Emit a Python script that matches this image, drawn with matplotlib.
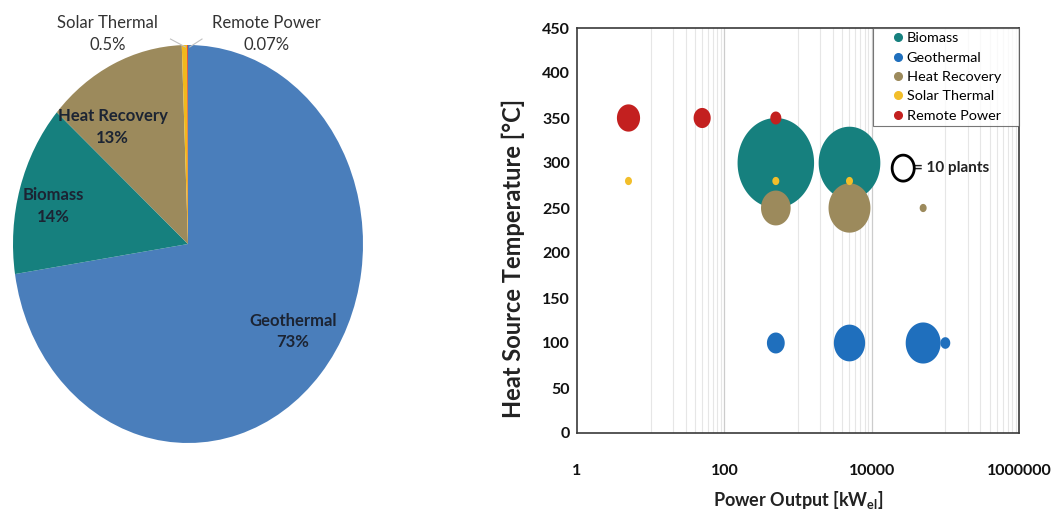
import numpy as np
import matplotlib
matplotlib.use("Agg")
import matplotlib.pyplot as plt
from matplotlib.path import Path
from matplotlib.lines import Line2D

plt.rcParams['font.family'] = ['Lato', 'DejaVu Sans']

# pie data
pie_labels = ["Geothermal", "Biomass", "Heat Recovery", "Solar Thermal", "Remote Power"]
pie_pcts = [73, 14, 13, 0.5, 0.07]
pie_texts = ["73%", "14%", "13%", "0.5%", "0.07%"]

# bubble data: power output [kW_el], temperature [C], number of plants
bio_x = [500, 5000]
bio_y = [300, 300]
bio_n = [120, 78]

geo_x = [500, 5000, 50000, 100000]
geo_y = [100, 100, 100, 100]
geo_n = [6.5, 20, 25, 2]

heat_x = [500, 5000, 50000]
heat_y = [250, 250, 250]
heat_n = [18, 36, 1]

solar_x = [5, 500, 5000]
solar_y = [280, 280, 280]
solar_n = [1, 1, 1]

remote_x = [5, 50, 500]
remote_y = [350, 350, 350]
remote_n = [11, 6, 2.5]

colors = {"Biomass": "#16807e", "Geothermal": "#1f6fbd", "Heat Recovery": "#9c8a5c",
          "Solar Thermal": "#f2be2a", "Remote Power": "#c3201f"}
pie_colors = ["#4a7ebb", "#16807e", "#9c8a5c", "#f2b81c", "#c3201f"]

fig = plt.figure(figsize=(10.61, 5.14), dpi=100)

# ---------------- pie (slightly squashed like the original) ----------------
axp = fig.add_axes([13 / 1061, (514 - 443) / 514, 350 / 1061, 398 / 514])
wedges, _ = axp.pie(pie_pcts, colors=pie_colors, startangle=90, counterclock=False,
                    wedgeprops=dict(linewidth=0))
axp.set_xlim(-1, 1)
axp.set_ylim(-1, 1)
axp.set_aspect('auto')

inside_pos = [(0.60, -0.44), (-0.77, 0.19), (-0.43, 0.59)]
for i in range(3):
    axp.text(inside_pos[i][0], inside_pos[i][1], pie_labels[i] + "\n" + pie_texts[i],
             ha='center', va='center', fontsize=12, fontweight='bold', color='#1c2433',
             linespacing=1.45)
outside_pos = [(-0.46, 1.055), (0.45, 1.055)]
for j, i in enumerate([3, 4]):
    axp.text(outside_pos[j][0], outside_pos[j][1], pie_labels[i] + "\n" + pie_texts[i],
             ha='center', va='center', fontsize=12, color='#333333', linespacing=1.45)
# leader lines
axp.plot([-0.10, -0.015], [1.03, 0.99], color='#c0c0c0', lw=0.8, clip_on=False)
axp.plot([0.08, 0.01], [1.03, 0.99], color='#c0c0c0', lw=0.8, clip_on=False)

# ---------------- bubbles ----------------
ax = fig.add_axes([577 / 1061, (514 - 433) / 514, (1019 - 577) / 1061, (433 - 28) / 514])

t = np.linspace(0, 2 * np.pi, 120)
ell = Path(np.column_stack([0.85 * np.cos(t), np.sin(t)]), closed=True)
k = 35  # marker area per plant (pt^2)

series = [("Biomass", bio_x, bio_y, bio_n),
          ("Geothermal", geo_x, geo_y, geo_n),
          ("Heat Recovery", heat_x, heat_y, heat_n),
          ("Solar Thermal", solar_x, solar_y, solar_n),
          ("Remote Power", remote_x, remote_y, remote_n)]
for name, xs, ys, ns in series:
    ax.scatter(xs, ys, s=[k * n for n in ns], marker=ell, color=colors[name],
               edgecolors='none', zorder=3)

ax.set_xscale('log')
ax.set_xlim(1, 1e6)
ax.set_ylim(0, 450)
ax.set_yticks(range(0, 451, 50))
ax.set_xticks([1, 100, 10000, 1000000])
ax.set_xticklabels(["1", "100", "10000", "1000000"])
ax.xaxis.set_minor_locator(matplotlib.ticker.NullLocator())

# excel style grid lines
grid_x = [m * 10 ** e for e in (1, 3, 5) for m in range(1, 10)]
for gx in grid_x:
    ax.axvline(gx, color='#e6e6e6', lw=0.8, zorder=0)
for gx in [100, 10000]:
    ax.axvline(gx, color='#cccccc', lw=0.9, zorder=0)

for sp in ax.spines.values():
    sp.set_color('#3a3a3a')
    sp.set_linewidth(1.2)
ax.tick_params(length=0, labelsize=11.5, colors='#111111')
ax.tick_params(axis='y', pad=5)
ax.tick_params(axis='x', pad=22)
for lab in ax.get_xticklabels() + ax.get_yticklabels():
    lab.set_fontweight('bold')

ax.set_xlabel("Power Output [kW$_{\\mathregular{el}}$]", fontsize=13, fontweight='bold',
              color='#222222', labelpad=8)
ax.set_ylabel("Heat Source Temperature [°C]", fontsize=17, fontweight='bold',
              color='#222222')
ax.yaxis.set_label_coords(-0.118, 0.43)

handles = [Line2D([], [], marker='o', ls='none', markersize=5.5, color=colors[s[0]])
           for s in series]
leg = ax.legend(handles, [s[0] for s in series], loc='upper left',
                bbox_to_anchor=(0.670, 0, 0.330, 1), mode='expand', fontsize=10.4,
                frameon=True, fancybox=False, borderaxespad=0, handletextpad=-0.88,
                handlelength=2.9, labelspacing=0.5, borderpad=0.3)
leg.get_frame().set_edgecolor('#555555')
leg.get_frame().set_linewidth(0.8)

# size key
ax.scatter([0.738], [0.654], s=k * 10, marker=ell, facecolors='none', edgecolors='black',
           linewidths=2, transform=ax.transAxes, zorder=4)
ax.text(0.762, 0.654, "= 10 plants", transform=ax.transAxes, fontsize=11,
        va='center', ha='left', fontweight='bold', color='#222222')

fig.savefig("out.png", dpi=100)
